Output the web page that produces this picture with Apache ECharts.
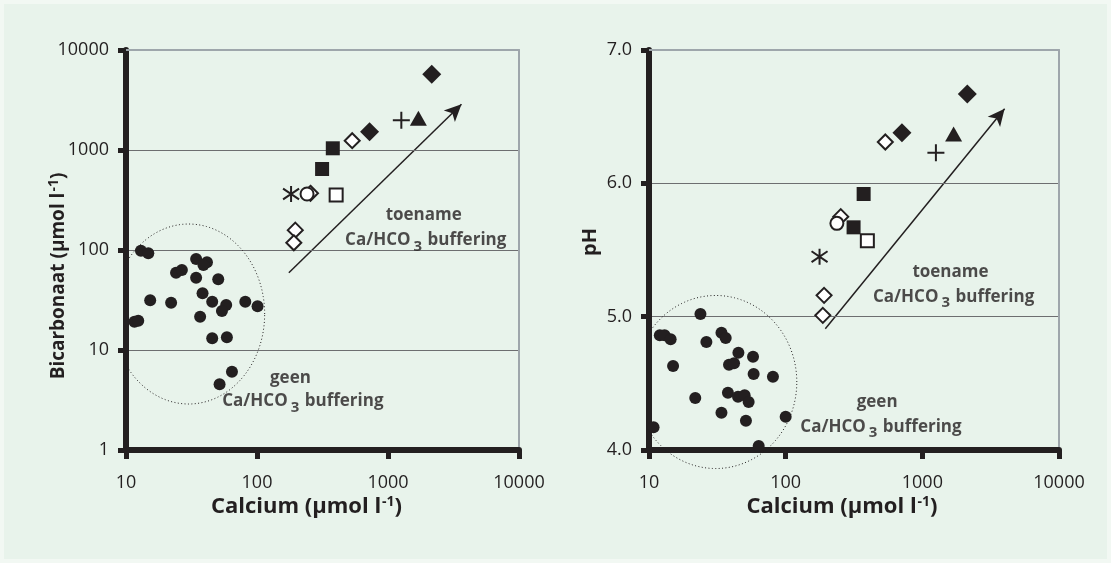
<!DOCTYPE html>
<html>
<head>
<meta charset="utf-8">
<script src="https://cdn.jsdelivr.net/npm/echarts@6/dist/echarts.min.js"></script>
<style>
  html, body { margin: 0; padding: 0; background: #f2f8f3; }
  #chart { width: 1111px; height: 563px; }
</style>
</head>
<body>
<div id="chart"></div>
<script>
// left panel: bicarbonate against calcium, black dots = unbuffered group
const dotCalciumA = [13.0, 14.8, 34.3, 41.5, 39.0, 24.1, 26.7, 34.3, 50.6, 38.4, 15.3, 22.1, 45.5, 58.2, 54.0, 81.4, 101, 11.6, 12.4, 36.8, 45.5, 58.9, 64.4, 51.8]
const dotBicarb = [98.4, 92.7, 81.3, 75.3, 70.8, 59.3, 63.1, 52.8, 50.9, 36.9, 31.4, 29.7, 30.4, 28.2, 24.5, 30.4, 27.4, 19.2, 19.6, 21.5, 13.1, 13.4, 6.07, 4.54]

// right panel: pH against calcium
const dotCalciumB = [23.8, 12.0, 13.0, 14.4, 26.3, 33.9, 36.4, 45.1, 57.7, 15.0, 38.5, 41.9, 58.3, 80.7, 21.8, 37.8, 44.8, 50.1, 53.6, 33.9, 51.2, 100, 10.8, 63.5]
const dotPH = [5.02, 4.86, 4.86, 4.83, 4.81, 4.88, 4.84, 4.73, 4.70, 4.63, 4.64, 4.65, 4.57, 4.55, 4.39, 4.43, 4.40, 4.41, 4.36, 4.28, 4.22, 4.25, 4.17, 4.03]

// marked sites, same order in both panels
const siteMarkers = ['filledDiamond', 'plus', 'filledTriangle', 'filledDiamond', 'openDiamond', 'filledSquare', 'filledSquare', 'asterisk', 'openDiamond', 'openCircle', 'openSquare', 'openDiamond', 'openDiamond']
const siteCalciumA = [2157, 1264, 1706, 723, 533, 379, 314, 182, 256, 241, 402, 196, 191]
const siteBicarb = [5715, 1982, 2075, 1524, 1239, 1040, 646, 363, 369, 363, 355, 158, 118]
const siteCalciumB = [2134, 1257, 1694, 709, 536, 372, 314, 177, 253, 237, 396, 191, 187]
const sitePH = [6.67, 6.23, 6.37, 6.38, 6.31, 5.92, 5.67, 5.45, 5.75, 5.70, 5.57, 5.16, 5.01]

const calciumTicks = [10, 100, 1000, 10000]
const bicarbTicks = [1, 10, 100, 1000, 10000]
const phTicks = [4, 5, 6, 7]

// trend arrows [start, end] as [calcium, y]
const arrowA = [[175, 59.3], [3639, 2863]]
const arrowB = [[195, 4.91], [4000, 6.56]]

// dotted ellipse: centre calcium, centre y, x half-width (decades), y half-height
const ellipseA = [30.1, 22.9, 0.58, 0.9]
const ellipseB = [30.8, 4.51, 0.593, 0.649]

// text notes: [text, calcium, y]
const notesA = [
  ['toename', 1873, 224],
  ['buffer', 1940, 124.5],
  ['geen', 180, 5.25],
  ['buffer', 224, 3.05],
]
const notesB = [
  ['toename', 1606, 5.334],
  ['buffer', 1694, 5.146],
  ['geen', 467, 4.359],
  ['buffer', 498, 4.171],
]

const ink = '#231f20'
const frame = '#9ea6ab'
const font = 'Open Sans'

const markerStyles = {
  filledDiamond: { symbol: 'diamond', symbolSize: 19, itemStyle: { color: ink, opacity: 1 } },
  openDiamond: { symbol: 'diamond', symbolSize: 15, itemStyle: { color: '#fff', borderColor: ink, borderWidth: 2, opacity: 1 } },
  filledSquare: { symbol: 'rect', symbolSize: 14, itemStyle: { color: ink, opacity: 1 } },
  openSquare: { symbol: 'rect', symbolSize: 13, itemStyle: { color: '#fff', borderColor: ink, borderWidth: 2, opacity: 1 } },
  filledTriangle: { symbol: 'triangle', symbolSize: [17, 15], itemStyle: { color: ink, opacity: 1 } },
  openCircle: { symbol: 'circle', symbolSize: 13, itemStyle: { color: '#fff', borderColor: ink, borderWidth: 2, opacity: 1 } },
  plus: { symbol: 'path://M5 0L5 10M0 5L10 5', symbolSize: 17, itemStyle: { color: 'rgba(0,0,0,0)', borderColor: ink, borderWidth: 2, opacity: 1 } },
  asterisk: { symbol: 'path://M5 0L5 10M0.7 1.6L9.3 8.4M0.7 8.4L9.3 1.6', symbolSize: 16, itemStyle: { color: 'rgba(0,0,0,0)', borderColor: ink, borderWidth: 2, opacity: 1 } },
}

function siteData(xs, ys) {
  return siteMarkers.map((m, i) => {
    const s = markerStyles[m]
    return { value: [xs[i], ys[i]], symbol: s.symbol, symbolSize: s.symbolSize, itemStyle: Object.assign({}, s.itemStyle) }
  })
}

function noteData(notes) {
  return notes.map(([t, x, y]) => ({
    value: [x, y],
    label: { formatter: t === 'buffer' ? '{t|Ca/HCO}{s|3}{t| buffering}' : '{t|' + t + '}' },
  }))
}

// outline of the ellipse in data units (log decades on log axes)
function ellipsePoints(e, logY) {
  const [cx, cy, rx, ry] = e
  const pts = []
  for (let i = 0; i <= 160; i++) {
    const a = (i / 160) * Math.PI * 2
    const x = cx * Math.pow(10, rx * Math.cos(a))
    const y = logY ? cy * Math.pow(10, ry * Math.sin(a)) : cy + ry * Math.sin(a)
    pts.push([x, y])
  }
  return pts
}

const tickText = { color: ink, fontSize: 18, fontFamily: font }
const supText = { sup: { fontSize: 14, fontWeight: 'bold', fontFamily: font, color: ink, padding: [0, 0, 9, 1] } }

function nameText(size) {
  return { color: ink, fontSize: size, fontWeight: 'bold', fontFamily: font }
}

const calciumRange = { type: 'log', logBase: 10, min: calciumTicks[0], max: calciumTicks[calciumTicks.length - 1] }
const bicarbRange = { type: 'log', logBase: 10, min: bicarbTicks[0], max: bicarbTicks[bicarbTicks.length - 1] }
const phRange = { type: 'value', min: phTicks[0], max: phTicks[phTicks.length - 1], interval: 1 }

function xAxisFor(gridIndex, shift) {
  return Object.assign({
    gridIndex,
    zlevel: 1,
    axisLine: { show: true, lineStyle: { color: ink, width: 6 } },
    axisTick: { show: true, length: 9, lineStyle: { color: ink, width: 5 } },
    axisLabel: Object.assign({ margin: 24, formatter: (v) => String(Math.round(v)) }, tickText),
    splitLine: { show: false },
    name: 'Calcium (µmol l{sup|-1})',
    nameLocation: 'middle',
    nameGap: 45,
    nameMoveOverlap: false,
    nameTextStyle: Object.assign({ padding: [0, shift, 0, 0], rich: supText }, nameText(22)),
  }, calciumRange)
}

function yAxisFor(gridIndex, range, extra) {
  return Object.assign({
    gridIndex,
    zlevel: 1,
    axisLine: { show: true, lineStyle: { color: ink, width: 6 } },
    axisTick: { show: true, length: 8, lineStyle: { color: ink, width: 5 } },
    splitLine: { show: true, lineStyle: { color: '#6d6e70', width: 1 } },
    nameLocation: 'middle',
    nameMoveOverlap: false,
  }, range, extra)
}

// grey frame along the top and right of a panel
function frameAxis(gridIndex, position, range) {
  return Object.assign({
    gridIndex,
    position,
    zlevel: 1,
    axisLine: { show: true, lineStyle: { color: frame, width: 2 } },
    axisTick: { show: false },
    axisLabel: { show: false },
    splitLine: { show: false },
  }, range)
}

function markLineFor(arrow) {
  return {
    silent: true,
    symbol: ['none', 'arrow'],
    symbolSize: [12, 17],
    lineStyle: { color: ink, width: 1.5, type: 'solid', opacity: 1 },
    label: { show: false },
    data: [[{ coord: arrow[0] }, { coord: arrow[1] }]],
  }
}

function ellipseSeries(xi, yi, pts) {
  return {
    type: 'line',
    xAxisIndex: xi,
    yAxisIndex: yi,
    zlevel: 2,
    silent: true,
    clip: false,
    showSymbol: false,
    symbol: 'none',
    lineStyle: { color: ink, width: 1, type: [1, 2.4] },
    data: pts,
  }
}

function dotSeries(xi, yi, xs, ys, arrow) {
  return {
    type: 'scatter',
    xAxisIndex: xi,
    yAxisIndex: yi,
    zlevel: 2,
    clip: false,
    symbol: 'circle',
    symbolSize: 12,
    itemStyle: { color: ink, opacity: 1 },
    data: xs.map((c, i) => [c, ys[i]]),
    markLine: markLineFor(arrow),
  }
}

function noteSeries(xi, yi, notes) {
  return {
    type: 'scatter',
    xAxisIndex: xi,
    yAxisIndex: yi,
    zlevel: 2,
    clip: false,
    symbolSize: 1,
    itemStyle: { color: 'rgba(0,0,0,0)' },
    silent: true,
    label: {
      show: true,
      position: 'inside',
      rich: {
        t: { fontSize: 17, fontWeight: 'bold', color: ink, fontFamily: font },
        s: { fontSize: 15, fontWeight: 'bold', color: ink, fontFamily: font, padding: [12, 1, 0, 3] },
      },
    },
    data: noteData(notes),
  }
}

const chart = echarts.init(document.getElementById('chart'))

function renderChart() {
  chart.setOption({
    animation: false,
    backgroundColor: '#e8f3eb',
    graphic: [
      {
        type: 'rect',
        silent: true,
        shape: { x: 0, y: 0, width: 1111, height: 563 },
        style: { fill: 'none', stroke: '#f2f8f3', lineWidth: 8 },
      },
    ],
    grid: [
      { left: 126, top: 50, width: 393, height: 400, show: false },
      { left: 649, top: 50, width: 410, height: 400, show: false },
    ],
    xAxis: [
      xAxisFor(0, 32),
      xAxisFor(1, 24),
      frameAxis(0, 'top', calciumRange),
      frameAxis(1, 'top', calciumRange),
    ],
    yAxis: [
      yAxisFor(0, bicarbRange, {
        axisLabel: Object.assign({ margin: 17, formatter: (v) => String(Math.round(v)) }, tickText),
        name: 'Bicarbonaat (µmol l{sup|-1})',
        nameGap: 56,
        nameTextStyle: Object.assign({ padding: [0, 52, 0, 0], rich: supText }, nameText(19)),
      }),
      yAxisFor(1, phRange, {
        axisLabel: Object.assign({ margin: 17, formatter: (v) => v.toFixed(1) }, tickText),
        name: 'pH',
        nameGap: 49,
        nameTextStyle: Object.assign({ padding: [0, 0, 0, 16] }, nameText(20)),
      }),
      frameAxis(0, 'right', bicarbRange),
      frameAxis(1, 'right', phRange),
    ],
    series: [
      ellipseSeries(0, 0, ellipsePoints(ellipseA, true)),
      ellipseSeries(1, 1, ellipsePoints(ellipseB, false)),
      dotSeries(0, 0, dotCalciumA, dotBicarb, arrowA),
      dotSeries(1, 1, dotCalciumB, dotPH, arrowB),
      { type: 'scatter', xAxisIndex: 0, yAxisIndex: 0, zlevel: 2, clip: false, data: siteData(siteCalciumA, siteBicarb) },
      { type: 'scatter', xAxisIndex: 1, yAxisIndex: 1, zlevel: 2, clip: false, data: siteData(siteCalciumB, sitePH) },
      noteSeries(0, 0, notesA),
      noteSeries(1, 1, notesB),
    ],
  })
}

renderChart()
window.addEventListener('resize', () => chart.resize())
</script>
</body>
</html>
